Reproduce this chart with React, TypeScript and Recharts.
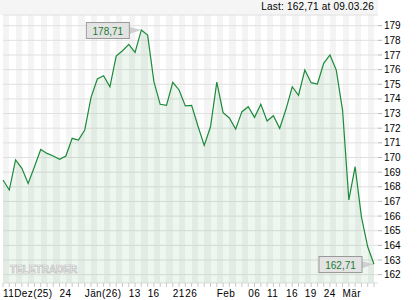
import React from 'react';
import { AreaChart, Area, XAxis, YAxis, CartesianGrid, ReferenceDot } from 'recharts';

// closing prices, one per trading day (11 Dec 2025 .. 09 Mar 2026)
const prices = [
  168.46, 167.78, 169.83, 169.26, 168.23, 169.37, 170.55, 170.28, 170.1, 169.87,
  170.1, 171.31, 171.19, 171.88, 174.11, 175.36, 175.58, 174.83, 176.93, 177.29,
  177.73, 177.18, 178.71, 178.36, 175.18, 173.63, 173.56, 175.13, 174.61, 173.52,
  173.56, 172.15, 170.83, 172.1, 175.15, 173.06, 172.7, 171.94, 173.13, 173.47,
  172.74, 173.63, 172.49, 172.85, 171.99, 173.29, 174.83, 174.25, 175.97, 175.11,
  175.02, 176.43, 177.0, 175.97, 173.24, 167.1, 169.37, 165.95, 163.9, 162.71,
];

// day index of each labelled tick and its text
const tickIdx = [0, 9, 13, 20, 23, 27, 29, 34, 39, 42, 45, 48, 51, 54];
const tickText = ['11Dez(25)', '24', 'Jän(26)', '13', '16', '21', '26', 'Feb', '06', '11', '16', '19', '24', 'Mär'];

const yTicks = [162, 163, 164, 165, 166, 167, 168, 169, 170, 171, 172, 173, 174, 175, 176, 177, 178, 179];
const lastDate = '09.03.26';

const FONT = '"Liberation Sans", Arial, sans-serif';

const data = prices.map((v, i) => ({ i, v }));
const allIdx = data.map((d) => d.i);
const peak = Math.max(...prices);
const peakIdx = prices.indexOf(peak);
const lastIdx = prices.length - 1;
const last = prices[lastIdx];
const fmt = (n: number) => n.toFixed(2).replace('.', ',');

const DateTick = (props: any) => {
  const { x, y, payload } = props;
  const k = tickIdx.indexOf(payload.value);
  if (k < 0) return <g />;
  return (
    <text x={x} y={y} dy={8} fontSize={10} fontFamily={FONT} fill="#000" textAnchor="start" letterSpacing={0.4}>
      {tickText[k]}
    </text>
  );
};

const Callout = (props: any) => {
  const { cx, cy, text } = props;
  const w = 43;
  const h = 16;
  const bx = cx - 12 - w;
  const by = Math.round(cy - h / 2) + 0.5;
  return (
    <g>
      <polygon points={`${bx + w},${cy - 3} ${cx},${cy} ${bx + w},${cy + 4}`} fill="#cfcfcf" />
      <rect x={bx} y={by} width={w} height={h} fill="#e3e3e3" stroke="#9a9a9a" />
      <text x={bx + w / 2} y={by + 12} textAnchor="middle" fontSize={10} fontFamily={FONT} fill="#1b7a32">
        {text}
      </text>
    </g>
  );
};

export default function App() {
  return (
    <div style={{ position: 'absolute', left: 0, top: 0, width: 420, height: 300, background: '#fff', fontFamily: FONT }}>
      <div style={{ position: 'absolute', left: 0, top: 0, width: 378, height: 15, background: '#f5f5f5' }} />
      <div style={{ position: 'absolute', right: 46, top: 1, fontSize: 10, color: '#000', lineHeight: '12px', letterSpacing: 0.2 }}>
        Last: {fmt(last)} at {lastDate}
      </div>
      <AreaChart width={420} height={300} data={data} margin={{ top: 15, right: 0, bottom: 0, left: 3 }}>
        <CartesianGrid horizontal={false} stroke="none" verticalFill={['#f4f4f4', '#ffffff']} />
        <CartesianGrid vertical={false} stroke="#e0e0e0" />
        <XAxis
          dataKey="i"
          ticks={allIdx}
          interval={0}
          height={17}
          padding={{ left: 0, right: 4 }}
          tick={<DateTick />}
          tickSize={4}
          tickLine={{ stroke: '#c8c8c8' }}
          axisLine={false}
        />
        <YAxis
          orientation="right"
          width={42}
          domain={[161.43, 179.73]}
          ticks={yTicks}
          interval={0}
          tickSize={4}
          tickLine={{ stroke: '#b8b8b8' }}
          axisLine={false}
          tick={{ fontSize: 10, fontFamily: FONT, fill: '#000' }}
        />
        <Area
          type="linear"
          dataKey="v"
          stroke="#1c8a3a"
          strokeWidth={1.2}
          fill="#2a8a3a"
          fillOpacity={0.08}
          dot={false}
          activeDot={false}
          isAnimationActive={false}
        />
        <ReferenceDot x={peakIdx} y={peak} r={0} shape={(p: any) => <Callout {...p} text={fmt(peak)} />} />
        <ReferenceDot x={lastIdx} y={last} r={0} shape={(p: any) => <Callout {...p} text={fmt(last)} />} />
      </AreaChart>
      <div
        style={{
          position: 'absolute',
          left: 10,
          top: 264,
          fontSize: 10,
          fontWeight: 'bold',
          letterSpacing: 0,
          color: '#f6f6f6',
          WebkitTextStroke: '0.7px #bdbdbd',
          lineHeight: '12px',
        }}
      >
        TELETRADER
      </div>
    </div>
  );
}
